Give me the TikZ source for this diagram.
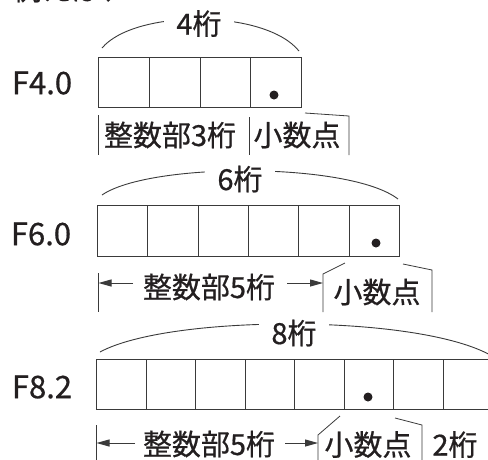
\documentclass[tikz,border=0pt]{standalone}
\usepackage{fontspec}
\setmainfont{Noto Sans CJK JP}[FakeBold=0.6,AutoFakeBold=0.6]
\usetikzlibrary{arrows.meta}
\definecolor{ink}{HTML}{231F20}
\definecolor{rule}{HTML}{3A3A3A}
\begin{document}
\begin{tikzpicture}[x=1pt,y=-1pt,
  cellbox/.style={draw=rule, line width=1.1pt, minimum height=50, inner sep=0, anchor=north west},
  lbl/.style={font=\fontsize{29}{29}\selectfont\bfseries, text=ink, inner sep=0},
  fmt/.style={font=\fontsize{31}{31}\selectfont\bfseries, text=ink, inner sep=0},
  span/.style={lbl, fill=white, inner xsep=12, inner ysep=1},
  thinline/.style={draw=rule, line width=0.8pt},
  arcline/.style={draw=rule, line width=0.9pt},
  arr/.style={draw=rule, line width=1pt, -{Triangle[length=13pt,width=7pt]}},
  dotmark/.style={circle, fill=ink, inner sep=0, minimum size=9}]
\useasboundingbox (0,0) rectangle (488,459);
\clip (0,0) rectangle (488,459);

% top (partially cut) text
\node[lbl, anchor=base west] (intro) at (13,0) {例えば、};

% ---------- Row 1: F4.0 ----------
\node[fmt] (f1) at (42,83) {F4.0};
\foreach \i in {0,...,3}
  \node[cellbox, minimum width=50.75] (a\i) at ({98+50.75*\i},57) {};
\node[dotmark] (d1) at (274,95) {};
\draw[arcline] (102,48) .. controls (135,9) and (265,9) .. (299,51);
\node[span] (k1) at (199,23.5) {4桁};
\coordinate (r1a) at (98,115); \coordinate (r1b) at (98,155);
\draw[thinline] (r1a) -- (r1b);
\node[lbl] (int1) at (170,135) {整数部3桁};
\coordinate (r1c) at (249,117); \coordinate (r1d) at (249,155);
\draw[thinline] (r1c) -- (r1d);
\node[lbl] (dec1) at (297,135) {小数点};
\coordinate (b1a) at (305,113); \coordinate (b1b) at (349,116); \coordinate (b1c) at (349,155);
\draw[thinline] (b1a) -- (b1b) -- (b1c);

% ---------- Row 2: F6.0 ----------
\node[fmt] (f2) at (41,234) {F6.0};
\foreach \i in {0,...,5}
  \node[cellbox, minimum width=50.33, minimum height=51] (b\i) at ({97+50.33*\i},205) {};
\node[dotmark] (d2) at (376,243) {};
\draw[arcline] (102,195) .. controls (150,162) and (350,162) .. (398,199);
\node[span] (k2) at (240,179) {6桁};
\coordinate (r2a) at (98,273); \coordinate (r2b) at (98,312);
\draw[thinline] (r2a) -- (r2b);
\coordinate (p2a) at (133,283); \coordinate (p2b) at (98.5,283);
\draw[arr] (p2a) -- (p2b);
\node[lbl] (int2) at (209,287) {整数部5桁};
\coordinate (q2a) at (287,283); \coordinate (q2b) at (323,283);
\draw[arr] (q2a) -- (q2b);
\coordinate (s2a) at (323,312); \coordinate (s2b) at (323,274); \coordinate (s2c) at (345,263);
\draw[thinline] (s2a) -- (s2b) -- (s2c);
\coordinate (s2d) at (403,264); \coordinate (s2e) at (432,270); \coordinate (s2f) at (432,312);
\draw[thinline] (s2d) -- (s2e) -- (s2f);
\node[lbl] (dec2) at (377,292) {小数点};

% ---------- Row 3: F8.2 ----------
\node[fmt] (f3) at (42,387) {F8.2};
\foreach \i in {0,...,7}
  \node[cellbox, minimum width=49.5] (c\i) at ({96+49.5*\i},359) {};
\node[dotmark] (d3) at (368,397) {};
\draw[arcline] (100,352) .. controls (170,314) and (420,314) .. (492,356);
\node[span] (k3) at (294,333) {8桁};
\coordinate (r3a) at (96,425); \coordinate (r3b) at (96,460);
\draw[thinline] (r3a) -- (r3b);
\coordinate (p3a) at (135,443); \coordinate (p3b) at (96.5,443);
\draw[arr] (p3a) -- (p3b);
\node[lbl] (int3) at (209,444) {整数部5桁};
\coordinate (q3a) at (285,443); \coordinate (q3b) at (318,443);
\draw[arr] (q3a) -- (q3b);
\coordinate (s3a) at (318,460); \coordinate (s3b) at (318,435); \coordinate (s3c) at (340,416);
\draw[thinline] (s3a) -- (s3b) -- (s3c);
\coordinate (s3d) at (395,418); \coordinate (s3e) at (422,425); \coordinate (s3f) at (422,460);
\draw[thinline] (s3d) -- (s3e) -- (s3f);
\node[lbl] (dec3) at (368,444.5) {小数点};
\node[lbl] (two3) at (455,444.5) {2桁};
\end{tikzpicture}
\end{document}
